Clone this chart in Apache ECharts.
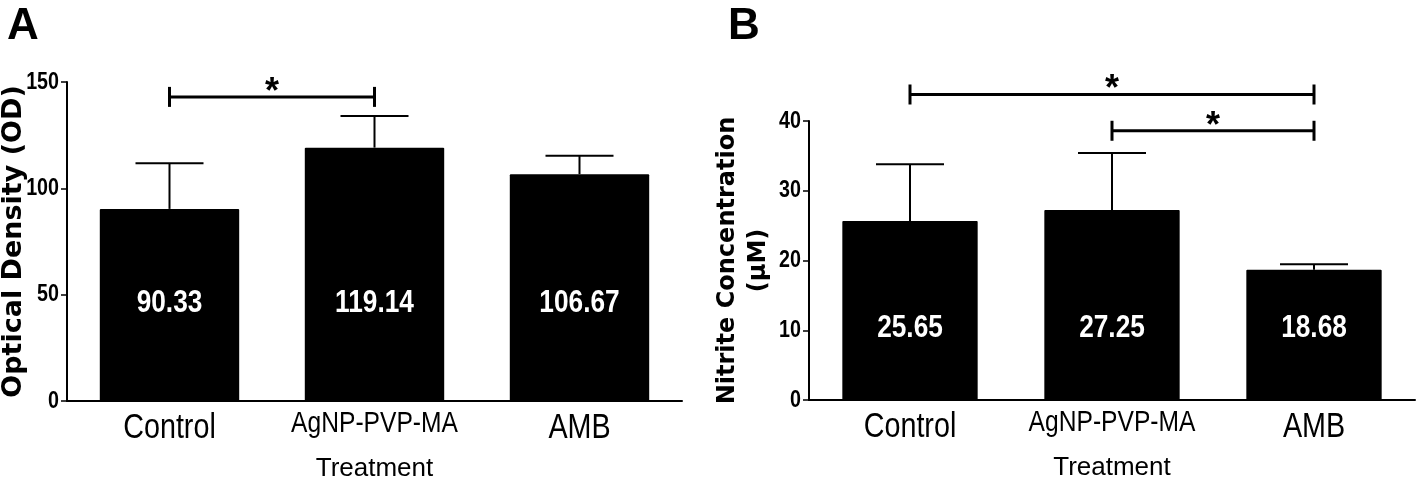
<!DOCTYPE html>
<html>
<head>
<meta charset="utf-8">
<script src="https://cdn.jsdelivr.net/npm/echarts@6/dist/echarts.min.js"></script>
<style>
html, body { margin: 0; padding: 0; background: #fff; }
#chart { width: 1418px; height: 480px; }
</style>
</head>
<body>
<div id="chart"></div>
<script>
// treatments shared by both panels
var treatments = ['Control', 'AgNP-PVP-MA', 'AMB'];

var odMean = [90.33, 119.14, 106.67];
var odSD = [21.5, 14.9, 8.6];
var odTicks = [0, 50, 100, 150];
var odSig = [[0, 1, 143]];          // [from, to, bracket height]

// panel B - nitrite concentration (µM)
var no2Mean = [25.65, 27.25, 18.68];
var no2SD = [8.15, 8.15, 0.8];
var no2Ticks = [0, 10, 20, 30, 40];
var no2Sig = [[0, 2, 43.8], [1, 2, 38.6]];

var SANS = "'Liberation Sans', Arial, sans-serif";
var WIDE = "'DejaVu Sans', sans-serif";
var NARROW_X = 0.82;   // squeeze Liberation Sans into an Arial Narrow look

var chart = echarts.init(document.getElementById('chart'));

// whisker (upper only) + cap
function errorBar(params, api) {
    var base = api.coord([api.value(0), api.value(1)]);
    var top = api.coord([api.value(0), api.value(1) + api.value(2)]);
    var st = { stroke: '#000', lineWidth: 2 };
    return {
        type: 'group',
        children: [
            { type: 'line', shape: { x1: base[0], y1: base[1], x2: top[0], y2: top[1] }, style: st },
            { type: 'line', shape: { x1: top[0] - 34, y1: top[1], x2: top[0] + 34, y2: top[1] }, style: st }
        ]
    };
}

// significance bracket with a star on top
function bracket(params, api) {
    var a = api.coord([api.value(0), api.value(2)]);
    var b = api.coord([api.value(1), api.value(2)]);
    var st = { stroke: '#000', lineWidth: 3 };
    return {
        type: 'group',
        children: [
            { type: 'line', shape: { x1: a[0], y1: a[1], x2: b[0], y2: b[1] }, style: st },
            { type: 'line', shape: { x1: a[0], y1: a[1] - 10, x2: a[0], y2: a[1] + 10 }, style: st },
            { type: 'line', shape: { x1: b[0], y1: b[1] - 10, x2: b[0], y2: b[1] + 10 }, style: st },
            {
                type: 'text',
                style: {
                    x: (a[0] + b[0]) / 2, y: a[1] - 4, text: '*',
                    font: 'bold 36px ' + SANS,
                    fill: '#000', align: 'center', verticalAlign: 'middle'
                }
            }
        ]
    };
}

function narrowText(x, y, text, font, fill, align) {
    return {
        type: 'text', x: x, y: y, scaleX: NARROW_X,
        style: { x: 0, y: 0, text: text, font: font, fill: fill, align: align, verticalAlign: 'middle' }
    };
}

// white value labels inside the bars at a fixed height
function valueLabel(labelY) {
    return function (params, api) {
        var p = api.coord([api.value(0), labelY]);
        return narrowText(p[0], p[1], api.value(1).toFixed(2), 'bold 32px ' + SANS, '#fff', 'center');
    };
}

// category labels under the axis
function categoryLabel(params, api) {
    var i = api.value(0);
    var p = api.coord([i, 0]);
    var name = treatments[i];
    var small = name.length > 8;
    return narrowText(p[0], p[1] + (small ? 23 : 27), name,
        (small ? 30 : 35) + 'px ' + SANS, '#000', 'center');
}

// value tick labels left of the axis
function tickLabel(params, api) {
    var p = api.coord([0, api.value(0)]);
    return narrowText(params.coordSys.x - 8, p[1], String(api.value(0)), 'bold 24px ' + SANS, '#000', 'right');
}

function rows(mean, sd) {
    return mean.map(function (m, i) { return [i, m, sd[i]]; });
}

function xAxisFor(gridIndex) {
    return {
        type: 'category',
        gridIndex: gridIndex,
        data: treatments,
        name: 'Treatment',
        nameLocation: 'middle',
        nameGap: 55,
        nameTextStyle: { fontFamily: SANS, fontSize: 26, color: '#000' },
        axisLine: { lineStyle: { color: '#000', width: 2 } },
        axisTick: { alignWithLabel: true, length: 6, lineStyle: { color: '#000', width: 1.5 } },
        axisLabel: { show: false }
    };
}

function yAxisFor(gridIndex, ticks, name, gap, size) {
    return {
        type: 'value',
        gridIndex: gridIndex,
        min: ticks[0],
        max: ticks[ticks.length - 1],
        interval: ticks[1] - ticks[0],
        name: name,
        nameLocation: 'middle',
        nameRotate: 90,
        nameGap: gap,
        nameTextStyle: { fontFamily: WIDE, fontWeight: 'bold', fontSize: size, color: '#000', lineHeight: 31 },
        axisLine: { show: true, lineStyle: { color: '#000', width: 2 } },
        axisTick: { show: true, length: 6, lineStyle: { color: '#000', width: 1.5 } },
        axisLabel: { show: false },
        splitLine: { show: false }
    };
}

function tickRows(ticks) {
    return ticks.map(function (t) { return [t]; });
}

var option = {
    animation: false,
    backgroundColor: '#fff',
    title: [
        { text: 'A', left: 2, top: 0, textStyle: { fontFamily: SANS, fontWeight: 'bold', fontSize: 44, color: '#000' } },
        { text: 'B', left: 723, top: 0, textStyle: { fontFamily: SANS, fontWeight: 'bold', fontSize: 44, color: '#000' } }
    ],
    grid: [
        { left: 67, top: 82, width: 615, height: 319, outerBoundsMode: 'none', containLabel: false },
        { left: 809, top: 121, width: 606, height: 279, outerBoundsMode: 'none', containLabel: false }
    ],
    xAxis: [xAxisFor(0), xAxisFor(1)],
    yAxis: [
        yAxisFor(0, odTicks, 'Optical Density (OD)', 38, 27),
        yAxisFor(1, no2Ticks, 'Nitrite Concentration\n(µM)', 35, 24)
    ],
    series: [
        { type: 'bar', xAxisIndex: 0, yAxisIndex: 0, data: odMean, barWidth: '68%', itemStyle: { color: '#000', borderRadius: 1 }, z: 3 },
        { type: 'custom', xAxisIndex: 0, yAxisIndex: 0, data: rows(odMean, odSD), renderItem: errorBar, z: 2 },
        { type: 'custom', xAxisIndex: 0, yAxisIndex: 0, data: rows(odMean, odSD), renderItem: valueLabel(46), z: 5 },
        { type: 'custom', xAxisIndex: 0, yAxisIndex: 0, data: odSig, renderItem: bracket, z: 5 },
        { type: 'custom', xAxisIndex: 0, yAxisIndex: 0, data: rows(odMean, odSD), renderItem: categoryLabel, clip: false, z: 5 },
        { type: 'custom', xAxisIndex: 0, yAxisIndex: 0, data: tickRows(odTicks), renderItem: tickLabel, clip: false, z: 5 },

        { type: 'bar', xAxisIndex: 1, yAxisIndex: 1, data: no2Mean, barWidth: '67%', itemStyle: { color: '#000', borderRadius: 1 }, z: 3 },
        { type: 'custom', xAxisIndex: 1, yAxisIndex: 1, data: rows(no2Mean, no2SD), renderItem: errorBar, z: 2 },
        { type: 'custom', xAxisIndex: 1, yAxisIndex: 1, data: rows(no2Mean, no2SD), renderItem: valueLabel(10.3), z: 5 },
        { type: 'custom', xAxisIndex: 1, yAxisIndex: 1, data: no2Sig, renderItem: bracket, z: 5 },
        { type: 'custom', xAxisIndex: 1, yAxisIndex: 1, data: rows(no2Mean, no2SD), renderItem: categoryLabel, clip: false, z: 5 },
        { type: 'custom', xAxisIndex: 1, yAxisIndex: 1, data: tickRows(no2Ticks), renderItem: tickLabel, clip: false, z: 5 }
    ]
};

chart.setOption(option);
</script>
</body>
</html>
